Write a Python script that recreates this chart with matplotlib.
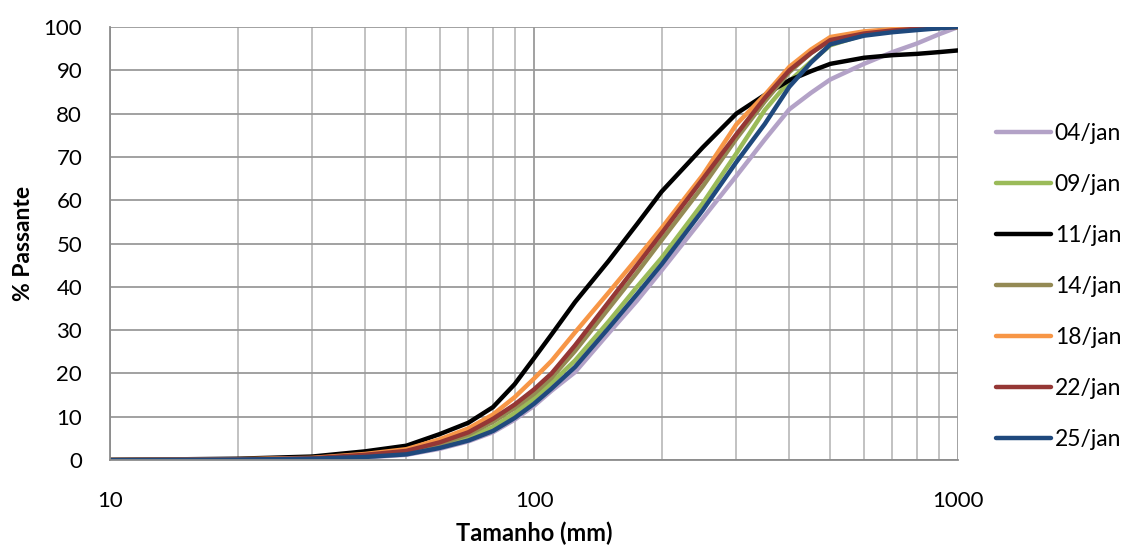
import matplotlib
matplotlib.use("Agg")
import matplotlib.pyplot as plt

plt.rcParams["font.family"] = ["Lato", "DejaVu Sans"]

# sieve sizes (mm) and cumulative % passing for each sampling date
sizes = [10, 20, 30, 40, 50, 60, 70, 80, 90, 100, 110, 125, 150, 175, 200,
         250, 300, 350, 400, 450, 500, 600, 700, 800, 900, 1000]

jan04 = [0, 0.1, 0.3, 0.6, 1.2, 2.6, 4.3, 6.4, 9.3, 12.5, 16, 20.3, 29.3,
         36.8, 43.8, 55.8, 65.6, 74, 81, 84.8, 87.9, 91.5, 94.2, 96.2, 98.3,
         100]
jan09 = [0, 0.1, 0.4, 0.9, 1.6, 3.3, 5.2, 7.6, 10.8, 14.2, 17.8, 23, 32,
         40, 46.7, 59.3, 70.8, 80.8, 87.5, 92, 95.8, 98.2, 99, 99.5, 99.8, 100]
jan11 = [0, 0.3, 0.8, 2.0, 3.3, 6.0, 8.6, 12.2, 17.5, 23.5, 29, 36.5, 46,
         54.5, 62, 72.2, 80, 84.3, 87.7, 89.8, 91.5, 92.9, 93.5, 93.8, 94.2,
         94.6]
jan14 = [0, 0.1, 0.4, 1.0, 1.9, 3.7, 5.9, 8.8, 12, 15.3, 19, 25.2, 35, 43.3,
         50.8, 63.2, 74.2, 82.8, 89.6, 94, 97, 98.6, 99.2, 99.6, 99.8, 100]
jan18 = [0, 0.2, 0.5, 1.4, 2.5, 4.8, 7.3, 10.5, 14.5, 18.8, 22.9, 29.5, 38.7,
         46.6, 53.6, 65.8, 77.5, 84.3, 90.8, 94.8, 97.7, 99, 99.5, 99.8, 99.9,
         100]
jan22 = [0, 0.1, 0.4, 1.2, 2.1, 4.1, 6.4, 9.5, 12.8, 16.3, 20, 26.5, 36.5,
         45, 52.4, 64.9, 75.2, 83.6, 90, 94, 97, 98.5, 99.2, 99.6, 99.8, 100]
jan25 = [0, 0.1, 0.3, 0.7, 1.3, 2.8, 4.5, 6.7, 9.7, 13, 16.5, 21.5, 30.5,
         38.3, 45.2, 57.7, 68.8, 77.6, 86.2, 91.8, 96, 98, 98.8, 99.3, 99.7,
         100]

series = [
    ("04/jan", jan04, "#B3A2C7"),
    ("09/jan", jan09, "#9BBB59"),
    ("11/jan", jan11, "#000000"),
    ("14/jan", jan14, "#948A54"),
    ("18/jan", jan18, "#F79646"),
    ("22/jan", jan22, "#953735"),
    ("25/jan", jan25, "#1F497D"),
]

fig = plt.figure(figsize=(11.29, 5.46), dpi=100)
ax = fig.add_axes([0.0974, 0.1575, 0.7512, 0.7930])

for label, vals, color in series:
    ax.plot(sizes, vals, color=color, linewidth=3.2, label=label,
            solid_capstyle="round", solid_joinstyle="round")

ax.set_xscale("log")
ax.set_xlim(10, 1000)
ax.set_ylim(0, 100)
ax.set_yticks(range(0, 101, 10))
ax.set_xticks([10, 100, 1000])
ax.set_xticklabels(["10", "100", "1000"])
ax.minorticks_on()
ax.tick_params(axis="y", which="minor", left=False)
ax.tick_params(which="both", length=0, labelsize=16, colors="#000000")
ax.tick_params(axis="y", pad=20)
ax.tick_params(axis="x", pad=22)

ax.grid(True, which="major", color="#9A9A9A", linewidth=1.3)
ax.grid(True, which="minor", axis="x", color="#BDBDBD", linewidth=1.3)
ax.set_axisbelow(True)

for side in ["top", "right"]:
    ax.spines[side].set_visible(False)
for side in ["left", "bottom"]:
    ax.spines[side].set_color("#8C8C8C")
    ax.spines[side].set_linewidth(1.3)

ax.set_xlabel("Tamanho (mm)", fontsize=17, fontweight="bold", labelpad=8)
ax.set_ylabel("% Passante", fontsize=16.5, fontweight="bold", labelpad=7)

fig.legend(loc="upper left", bbox_to_anchor=(0.882, 0.775), frameon=False,
           fontsize=16.5, labelspacing=1.31, handlelength=2.4,
           handletextpad=0.17, borderpad=0, borderaxespad=0)

fig.savefig("out.png", dpi=100)
